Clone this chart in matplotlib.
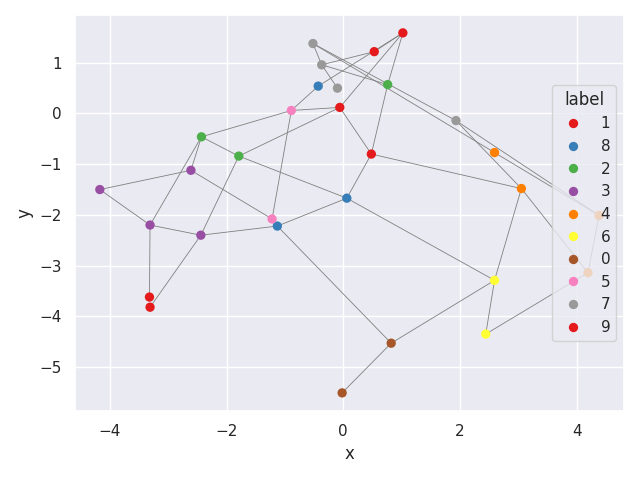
import matplotlib
matplotlib.use("Agg")
import matplotlib.pyplot as plt
import seaborn as sns
import pandas as pd

# point coordinates
xs = [1.02, 0.53, -0.06, 0.48,
      -0.43, 0.06, -1.13,
      -2.43, -1.79, 0.76,
      -4.17, -2.61, -3.31, -2.44,
      2.59, 3.05, 4.38, 4.19,
      2.59, 2.44,
      0.82, -0.02,
      -0.89, -1.22,
      -0.52, -0.37, -0.10, 1.93,
      -3.32, -3.31]
ys = [1.59, 1.22, 0.12, -0.80,
      0.54, -1.67, -2.22,
      -0.46, -0.84, 0.57,
      -1.50, -1.12, -2.20, -2.40,
      -0.77, -1.48, -2.01, -3.14,
      -3.29, -4.35,
      -4.53, -5.51,
      0.06, -2.08,
      1.38, 0.96, 0.50, -0.14,
      -3.62, -3.82]
labels = ["1", "1", "1", "1",
          "8", "8", "8",
          "2", "2", "2",
          "3", "3", "3", "3",
          "4", "4", "4", "4",
          "6", "6",
          "0", "0",
          "5", "5",
          "7", "7", "7", "7",
          "9", "9"]

# connections between points (indices)
edges = [(24, 25), (25, 26), (24, 27), (24, 14), (14, 16), (27, 16), (27, 15),
         (15, 17), (16, 17), (17, 19), (19, 18), (18, 15), (18, 5), (18, 20),
         (20, 21), (20, 6), (25, 1), (25, 9), (0, 9), (9, 3), (0, 1), (0, 4),
         (4, 22), (0, 2), (2, 8), (22, 2), (2, 3), (22, 7), (22, 23), (7, 11),
         (7, 12), (7, 8), (8, 5), (8, 13), (10, 11), (10, 12), (11, 23),
         (12, 13), (12, 28), (13, 29), (13, 6), (6, 5), (5, 3), (3, 15)]

df = pd.DataFrame({"x": xs, "y": ys, "label": labels})

sns.set_theme(style="darkgrid")
fig, ax = plt.subplots(figsize=(6.4, 4.8), dpi=100)

for a, b in edges:
    ax.plot([xs[a], xs[b]], [ys[a], ys[b]], color="gray", linewidth=0.6, zorder=1)

sns.scatterplot(data=df, x="x", y="y", hue="label",
                palette=sns.color_palette("Set1", 10), s=45, linewidth=0,
                ax=ax, zorder=2)
ax.legend(title="label", loc="center right")

fig.subplots_adjust(left=0.117, right=0.975, top=0.969, bottom=0.144)
plt.savefig("out.png")
